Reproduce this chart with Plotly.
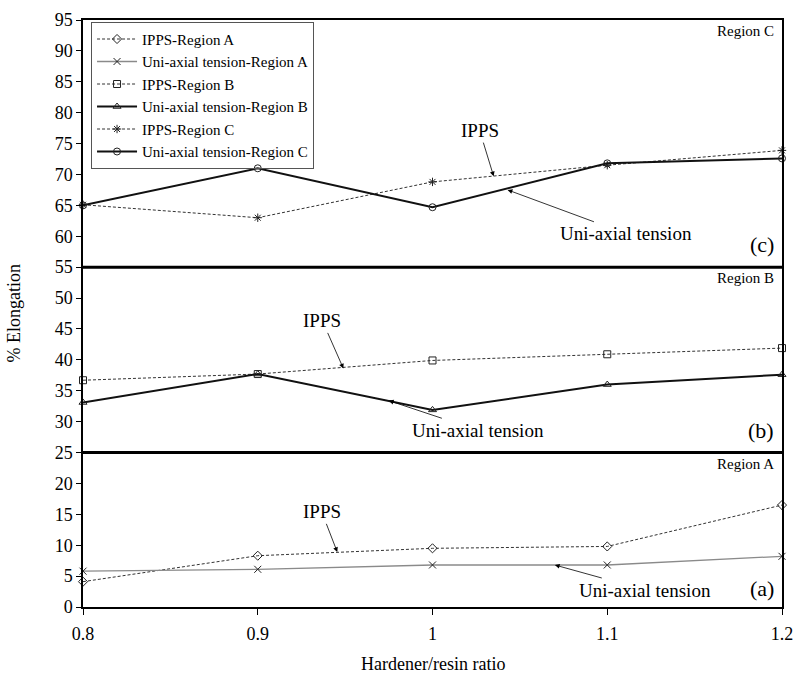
import plotly.graph_objects as go

# Hardener/resin ratios tested
ratio = [0.8, 0.9, 1.0, 1.1, 1.2]

# % elongation, region A
ipps_a = [4.1, 8.3, 9.5, 9.8, 16.5]
uni_a = [5.8, 6.1, 6.8, 6.8, 8.2]
# region B
ipps_b = [36.7, 37.7, 39.9, 40.9, 41.9]
uni_b = [33.1, 37.7, 31.9, 36.0, 37.6]
# region C
ipps_c = [65.1, 63.0, 68.8, 71.5, 73.9]
uni_c = [65.0, 71.0, 64.7, 71.8, 72.6]

y_ticks = list(range(0, 100, 5))
region_bounds = [25, 55]

FONT = "Liberation Serif"

fig = go.Figure()

series = [
    ("IPPS-Region A", ipps_a, "diamond-open", dict(color="#333", width=1, dash="3px,2px")),
    ("Uni-axial tension-Region A", uni_a, "x-thin-open", dict(color="#8a8a8a", width=1.3)),
    ("IPPS-Region B", ipps_b, "square-open", dict(color="#333", width=1, dash="3px,2px")),
    ("Uni-axial tension-Region B", uni_b, "triangle-up-open", dict(color="#111", width=2)),
    ("IPPS-Region C", ipps_c, "asterisk-open", dict(color="#333", width=1, dash="3px,2px")),
    ("Uni-axial tension-Region C", uni_c, "circle-open", dict(color="#111", width=2)),
]
for name, vals, sym, line in series:
    fig.add_trace(go.Scatter(
        x=ratio, y=vals, name=name, mode="lines+markers",
        line=line,
        marker=dict(symbol=sym, size=7, color="#222", line=dict(width=1, color="#222")),
        cliponaxis=False,
    ))

# bold dividers between regions
for b in region_bounds:
    fig.add_shape(type="line", xref="paper", yref="y", x0=0, x1=1, y0=b, y1=b,
                  line=dict(color="black", width=3))

# region labels and panel letters
for txt, yv in [("Region C", 95), ("Region B", 55), ("Region A", 25)]:
    fig.add_annotation(text=txt, xref="paper", yref="y", x=0.992, y=yv, yshift=-1,
                       xanchor="right", yanchor="top", showarrow=False,
                       font=dict(family=FONT, size=15, color="black"))
for txt, yv, sh in [("(c)", 55, 23), ("(b)", 25, 22), ("(a)", 0, 19)]:
    fig.add_annotation(text=txt, xref="paper", yref="y", x=0.992, y=yv, yshift=sh,
                       xanchor="right", yanchor="middle", showarrow=False,
                       font=dict(family=FONT, size=22, color="black"))

# arrowed callouts: (text x, text y, tip x, tip y, label)
callouts = [
    (1.027, 77.1, 1.035, 69.7, "IPPS"),
    (1.111, 60.4, 1.043, 67.5, "Uni-axial tension"),
    (0.937, 46.3, 0.949, 38.6, "IPPS"),
    (1.026, 28.6, 0.975, 33.4, "Uni-axial tension"),
    (0.9366, 15.4, 0.9455, 8.9, "IPPS"),
    (1.1216, 2.75, 1.070, 6.8, "Uni-axial tension"),
]
for tx, ty, px, py, label in callouts:
    fig.add_annotation(text=label, x=px, y=py, ax=tx, ay=ty, axref="x", ayref="y",
                       xref="x", yref="y", showarrow=True, arrowhead=2, arrowsize=1.2,
                       arrowwidth=0.8, arrowcolor="black",
                       font=dict(family=FONT, size=19, color="black"))

# axis titles
fig.add_annotation(text="Hardener/resin ratio", xref="paper", yref="paper", x=0.5, y=0,
                   yshift=-57, xanchor="center", yanchor="middle", showarrow=False,
                   font=dict(family=FONT, size=18, color="black"))
fig.add_annotation(text="% Elongation", xref="paper", yref="paper", x=0, y=0.5,
                   xshift=-70, textangle=-90, xanchor="center", yanchor="middle",
                   showarrow=False, font=dict(family=FONT, size=18, color="black"))

fig.update_layout(
    width=796, height=673,
    margin=dict(l=83, r=14, t=20, b=66),
    paper_bgcolor="white", plot_bgcolor="white",
    font=dict(family=FONT, size=18, color="black"),
    showlegend=True,
    legend=dict(x=0.0115, y=0.997, xanchor="left", yanchor="top",
                bgcolor="rgba(255,255,255,0)", bordercolor="#555", borderwidth=1,
                font=dict(family=FONT, size=15, color="black"),
                itemwidth=40, tracegroupgap=0),
    xaxis=dict(range=[0.8, 1.2], tickvals=ratio, ticktext=["0.8", "0.9", "1", "1.1", "1.2"],
               showgrid=False, zeroline=False, showline=True, linecolor="black", linewidth=1.5,
               mirror=True, ticks="outside", ticklen=6, tickcolor="black",
               ticklabelstandoff=4, automargin=False),
    yaxis=dict(range=[0, 95], tickvals=y_ticks, showgrid=False, zeroline=False,
               showline=True, linecolor="black", linewidth=1.5, mirror=True,
               ticks="outside", ticklen=5, tickcolor="black", automargin=False),
)

fig.write_html("out.html")
